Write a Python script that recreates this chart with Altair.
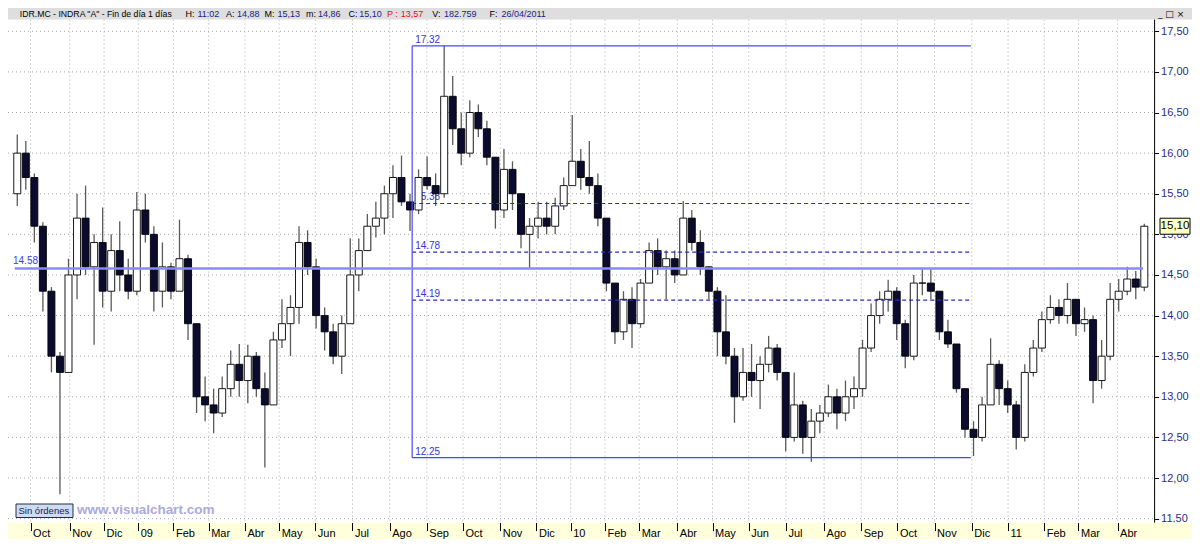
import altair as alt
import pandas as pd

# ---------------- data (weekly candles) ----------------
open_ = [15.5, 16.0, 15.7, 15.1, 14.3, 13.5, 13.3, 14.5, 15.2, 14.6,
         14.9, 14.3, 14.8, 14.5, 14.3, 15.3, 15.0, 14.3, 14.6, 14.3,
         14.7, 13.9, 13.0, 12.9, 12.8, 13.1, 13.4, 13.2, 13.5, 13.1,
         12.9, 13.7, 13.9, 14.1, 14.9, 14.6, 14.0, 13.8, 13.5, 13.9,
         14.5, 14.8, 15.1, 15.2, 15.5, 15.7, 15.4, 15.3, 15.7, 15.6,
         15.5, 16.7, 16.3, 16.0, 16.5, 16.3, 15.95, 15.3, 15.8, 15.5,
         15.0, 15.1, 15.2, 15.1, 15.35, 15.6, 15.9, 15.7, 15.6, 15.2,
         14.4, 13.8, 14.2, 13.9, 14.4, 14.8, 14.6, 14.7, 14.5, 15.2,
         14.9, 14.6, 14.3, 13.8, 13.5, 13.0, 13.3, 13.2, 13.4, 13.6,
         13.3, 12.5, 12.9, 12.5, 12.7, 12.8, 13.0, 12.8, 13.0, 13.1,
         13.6, 14.0, 14.2, 14.3, 13.9, 13.5, 14.4, 14.4, 14.3, 13.8,
         13.65, 13.1, 12.6, 12.5, 12.9, 13.4, 13.1, 12.9, 12.5, 13.3,
         13.6, 13.95, 14.1, 14.0, 14.2, 13.9, 13.95, 13.2, 13.5, 14.2,
         14.3, 14.45, 14.35]
high = [16.23, 16.15, 15.75, 15.15, 14.35, 13.55, 14.7, 15.5, 15.6, 15.0,
        15.33, 15.0, 15.16, 14.7, 15.52, 15.5, 15.1, 14.9, 14.65, 15.18,
        14.75, 13.9, 13.25, 13.1, 13.25, 13.57, 13.65, 13.64, 13.55, 13.3,
        13.8, 14.2, 14.25, 15.1, 15.05, 14.7, 14.1, 13.9, 14.0, 14.95,
        14.95, 15.25, 15.4, 15.6, 15.85, 15.97, 15.5, 15.8, 15.96, 15.75,
        17.32, 16.95, 16.5, 16.65, 16.6, 16.4, 15.95, 16.05, 15.9, 15.5,
        15.2, 15.4, 15.4, 15.45, 15.7, 16.47, 16.05, 16.15, 15.75, 15.2,
        14.4, 14.3, 14.35, 14.45, 14.9, 14.95, 14.8, 14.8, 15.41, 15.3,
        15.05, 14.6, 14.35, 14.25, 13.6, 13.6, 13.65, 13.5, 13.75, 13.65,
        13.3, 13.3, 12.95, 12.85, 12.9, 13.15, 13.1, 13.2, 13.25, 13.7,
        14.15, 14.3, 14.44, 14.35, 13.95, 14.5, 14.57, 14.57, 14.3, 13.95,
        13.65, 13.1, 12.7, 13.0, 13.72, 13.45, 13.2, 12.95, 13.4, 13.7,
        14.05, 14.25, 14.2, 14.4, 14.2, 14.1, 14.0, 13.7, 14.4, 14.45,
        14.6, 14.55, 15.13]
low = [15.35, 15.55, 14.9, 14.05, 13.3, 11.8, 13.3, 14.2, 14.5, 13.64,
       14.1, 14.05, 14.3, 14.2, 14.25, 14.9, 14.05, 14.1, 14.2, 14.3,
       13.7, 12.8, 12.7, 12.55, 12.75, 13.0, 13.0, 12.92, 13.0, 12.13,
       12.9, 13.6, 13.5, 13.9, 14.5, 13.84, 13.57, 13.4, 13.28, 13.9,
       14.3, 14.8, 14.96, 15.0, 15.2, 15.35, 15.04, 15.25, 15.55, 15.35,
       15.45, 16.1, 15.85, 15.95, 16.2, 15.85, 15.07, 15.2, 15.3, 14.83,
       14.58, 14.95, 15.0, 15.0, 15.3, 15.6, 15.55, 15.5, 15.1, 14.3,
       13.65, 13.7, 13.6, 13.85, 14.4, 14.5, 14.2, 14.4, 14.5, 14.8,
       14.5, 14.2, 13.5, 13.4, 12.68, 12.95, 13.0, 12.85, 13.3, 13.2,
       12.33, 12.45, 12.3, 12.2, 12.55, 12.75, 12.6, 12.7, 12.85, 13.0,
       13.55, 13.9, 14.05, 13.7, 13.35, 13.45, 14.25, 14.2, 13.7, 13.6,
       13.05, 12.5, 12.27, 12.45, 12.9, 12.9, 12.8, 12.35, 12.45, 13.25,
       13.55, 13.9, 13.9, 13.9, 13.75, 13.8, 12.92, 13.1, 13.45, 14.05,
       14.25, 14.2, 14.3]
close = [16.0, 15.7, 15.1, 14.3, 13.5, 13.3, 14.5, 15.2, 14.6, 14.9,
         14.3, 14.8, 14.5, 14.3, 15.3, 15.0, 14.3, 14.6, 14.3, 14.7,
         13.9, 13.0, 12.9, 12.8, 13.1, 13.4, 13.2, 13.5, 13.1, 12.9,
         13.7, 13.9, 14.1, 14.9, 14.6, 14.0, 13.8, 13.5, 13.9, 14.5,
         14.8, 15.1, 15.2, 15.5, 15.7, 15.4, 15.3, 15.7, 15.6, 15.5,
         16.7, 16.3, 16.0, 16.5, 16.3, 15.95, 15.3, 15.8, 15.5, 15.0,
         15.1, 15.2, 15.1, 15.35, 15.6, 15.9, 15.7, 15.6, 15.2, 14.4,
         13.8, 14.2, 13.9, 14.4, 14.8, 14.6, 14.7, 14.5, 15.2, 14.9,
         14.6, 14.3, 13.8, 13.5, 13.0, 13.3, 13.2, 13.4, 13.6, 13.3,
         12.5, 12.9, 12.5, 12.7, 12.8, 13.0, 12.8, 13.0, 13.1, 13.6,
         14.0, 14.2, 14.3, 13.9, 13.5, 14.4, 14.4, 14.3, 13.8, 13.65,
         13.1, 12.6, 12.5, 12.9, 13.4, 13.1, 12.9, 12.5, 13.3, 13.6,
         13.95, 14.1, 14.0, 14.2, 13.9, 13.95, 13.2, 13.5, 14.2, 14.3,
         14.45, 14.35, 15.10]

# month ticks (in week units of the x scale) and their labels
month_labels = ["Oct", "Nov", "Dic", "09", "Feb", "Mar", "Abr", "May", "Jun", "Jul",
                "Ago", "Sep", "Oct", "Nov", "Dic", "10", "Feb", "Mar", "Abr", "May",
                "Jun", "Jul", "Ago", "Sep", "Oct", "Nov", "Dic", "11", "Feb", "Mar", "Abr"]
month_pos = [1.56, 6.15, 10.16, 14.17, 18.29, 22.42, 26.66, 30.67, 34.91, 39.26,
             43.62, 47.97, 52.21, 56.57, 60.81, 64.82, 68.83, 72.84, 77.31, 81.43,
             85.67, 90.03, 94.49, 98.85, 103.09, 107.44, 111.8, 116.04, 120.28, 124.29, 128.87]
price_ticks = [11.5, 12.0, 12.5, 13.0, 13.5, 14.0, 14.5, 15.0, 15.5, 16.0, 16.5, 17.0, 17.5]

# Fibonacci retracement drawing and horizontal support line
fib_levels = [17.32, 15.38, 14.78, 14.19, 12.25]
fib_texts = ["17.32", "15.38", "14.78", "14.19", "12.25"]
fib_dashed = [False, True, True, True, False]
fib_span = [46.25, 111.68]
support_level = 14.58
support_span = [-0.3, 131.85]

# header text pieces: (text, colour, x in px, font size)
title_parts = [
    ('IDR.MC - INDRA "A" - Fin de día 1 días', "#000000", 11.8, 8.7),
    ("H:", "#000000", 177.6, 9), ("11:02", "#1c1c8c", 189.5, 9),
    ("A:", "#000000", 218.0, 9), ("14,88", "#1c1c8c", 229.0, 9),
    ("M:", "#000000", 256.5, 9), ("15,13", "#1c1c8c", 269.4, 9),
    ("m:", "#000000", 298.0, 9), ("14,86", "#1c1c8c", 310.0, 9),
    ("C:", "#000000", 340.4, 9), ("15,10", "#1c1c8c", 351.3, 9),
    ("P :", "#e01010", 379.0, 9), ("13,57", "#e01010", 392.7, 9),
    ("V:", "#000000", 424.3, 9), ("182.759", "#1c1c8c", 436.0, 9),
    ("F:", "#000000", 481.5, 9), ("26/04/2011", "#1c1c8c", 493.4, 9),
]

# ---------------- layout constants (pixels) ----------------
W, H = 1184, 531
PLOT_RIGHT = 1146.6
TOP = 11.6
BAND = 514.6
FONT = "Liberation Sans"

df = pd.DataFrame({"week": list(range(len(close))), "open": open_, "high": high,
                   "low": low, "close": close})
df["down"] = df["close"] < df["open"]

xscale = alt.Scale(domain=[-0.5, 137.0], nice=False, zero=False)
yscale = alt.Scale(domain=[11.249, 17.787], nice=False, zero=False)

label_expr_x = ("[" + ",".join(f"'{m}'" for m in month_labels) + "][indexof(["
                + ",".join(str(p) for p in month_pos) + "], datum.value)]")

xaxis = alt.Axis(values=month_pos, labelExpr=label_expr_x, orient="bottom", offset=-(H - BAND),
                 tickSize=8, tickColor="black", tickWidth=1, labelAlign="left", labelBaseline="top",
                 labelPadding=-3, labelOffset=2, labelFont=FONT, labelFontSize=11, labelColor="black",
                 domain=False, grid=False, labelOverlap=False, labelFlush=False, labelBound=False,
                 zindex=1, title=None)
yaxis = alt.Axis(values=price_ticks, orient="right", offset=-(W - PLOT_RIGHT), tickSize=4,
                 tickColor="black", labelPadding=2,
                 labelExpr="replace(format(datum.value, '.2f'), '.', ',')",
                 labelFont=FONT, labelFontSize=11, labelColor="#2b2b90", domain=False, grid=False,
                 title=None, labelOverlap=False, labelBound=False, labelFlush=False, zindex=0)


def X(field):
    return alt.X(field, type="quantitative", scale=xscale, axis=xaxis)


def Y(field):
    return alt.Y(field, type="quantitative", scale=yscale, axis=yaxis)


grid_col = "#a9a9a9"
hgrid = alt.Chart(pd.DataFrame({"p": price_ticks})).mark_rule(
    color=grid_col, strokeDash=[1, 3], strokeWidth=1).encode(
    y=Y("p"), x=alt.value(0), x2=alt.value(PLOT_RIGHT))
vgrid = alt.Chart(pd.DataFrame({"m": month_pos})).mark_rule(
    color=grid_col, strokeDash=[1, 3], strokeWidth=1).encode(
    x=X("m"), y=alt.value(TOP), y2=alt.value(BAND))

fib_df = pd.DataFrame({"level": fib_levels, "txt": fib_texts, "dashed": fib_dashed,
                       "x1": fib_span[0], "x2": fib_span[1]})
fib_labels = alt.Chart(fib_df).mark_text(
    align="left", baseline="alphabetic", dx=3, dy=-3, font=FONT, fontSize=10,
    color="#3434d0").encode(x=X("x1"), y=Y("level"), text="txt:N")

wicks = alt.Chart(df).mark_rule(color="#5a5a5a", strokeWidth=1.3).encode(
    x=X("week"), y=Y("low"), y2="high")
bodies = alt.Chart(df).mark_bar(width=7, stroke="#000000", strokeWidth=0.9).encode(
    x=X("week"), y=Y("open"), y2="close",
    fill=alt.condition("datum.down", alt.value("#0b0b30"), alt.value("#ffffff")))

fib_solid = alt.Chart(fib_df[~fib_df["dashed"]]).mark_rule(color="#4646ff", strokeWidth=1.2).encode(
    x=X("x1"), x2="x2", y=Y("level"))
fib_dash = alt.Chart(fib_df[fib_df["dashed"]]).mark_rule(
    color="#2a2ad0", strokeWidth=1.2, strokeDash=[4, 3]).encode(x=X("x1"), x2="x2", y=Y("level"))
fib_vert = alt.Chart(pd.DataFrame({"x": [fib_span[0]], "a": [fib_levels[0]],
                                   "b": [fib_levels[-1]]})).mark_rule(
    color="#4646ff", strokeWidth=1.2).encode(x=X("x"), y=Y("a"), y2="b")

sup_df = pd.DataFrame({"level": [support_level], "x1": [support_span[0]], "x2": [support_span[1]],
                       "txt": [f"{support_level:.2f}"]})
sup_line = alt.Chart(sup_df).mark_rule(color="#8a8aff", strokeWidth=2.5).encode(
    x=X("x1"), x2="x2", y=Y("level"))
sup_label = alt.Chart(sup_df).mark_text(
    align="left", baseline="alphabetic", dy=-4, font=FONT, fontSize=10, color="#3a3af0").encode(
    x=alt.value(5), y=Y("level"), text="txt:N")

band = alt.Chart(pd.DataFrame({"a": [0]})).mark_rect(color="#ffffdc").encode(
    x=alt.value(0), x2=alt.value(W), y=alt.value(BAND), y2=alt.value(H))
titlebar = alt.Chart(pd.DataFrame({"a": [0]})).mark_rect(color="#dedede").encode(
    x=alt.value(0), x2=alt.value(W), y=alt.value(0), y2=alt.value(TOP))
axis_line = alt.Chart(pd.DataFrame({"a": [0]})).mark_rule(color="#000000", strokeWidth=1).encode(
    x=alt.value(PLOT_RIGHT), y=alt.value(TOP), y2=alt.value(BAND))

title_layers = []
for txt, col, xpos, fs in title_parts:
    title_layers.append(
        alt.Chart(pd.DataFrame({"t": [txt]})).mark_text(
            align="left", baseline="middle", font=FONT, fontSize=fs, color=col).encode(
            x=alt.value(xpos), y=alt.value(6), text="t:N"))
win_btns = alt.Chart(pd.DataFrame({"t": ["_ □ ×"]})).mark_text(
    align="left", baseline="middle", font="DejaVu Sans", fontSize=9, color="#000000").encode(
    x=alt.value(1150), y=alt.value(6), text="t:N")

btn = alt.Chart(pd.DataFrame({"a": [0]})).mark_rect(
    fill="#cddcf0", stroke="#2a2a4a", strokeWidth=1).encode(
    x=alt.value(8), x2=alt.value(65), y=alt.value(496), y2=alt.value(509.5))
btn_txt = alt.Chart(pd.DataFrame({"t": ["Sin órdenes"]})).mark_text(
    align="left", baseline="middle", font=FONT, fontSize=9.5, color="#1a1a50").encode(
    x=alt.value(10.5), y=alt.value(503), text="t:N")
watermark = alt.Chart(pd.DataFrame({"t": ["www.visualchart.com"]})).mark_text(
    align="left", baseline="middle", font=FONT, fontSize=13.5, fontWeight="bold",
    color="#aaaadd").encode(x=alt.value(69), y=alt.value(502), text="t:N")

last_df = pd.DataFrame({"v": [close[-1]], "t": [f"{close[-1]:.2f}".replace(".", ",")]})
marker_box = alt.Chart(last_df).mark_rect(
    fill="#ffffc4", stroke="#000000", strokeWidth=1, yOffset=-8, y2Offset=8).encode(
    x=alt.value(1152), x2=alt.value(1182), y=Y("v"), y2="v")
marker_txt = alt.Chart(last_df).mark_text(
    align="center", baseline="middle", font=FONT, fontSize=11.5, color="#000000").encode(
    x=alt.value(1167), y=Y("v"), text="t:N")

chart = alt.layer(
    hgrid, vgrid, fib_labels, wicks, bodies, fib_solid, fib_dash, fib_vert,
    sup_line, sup_label, band, titlebar, *title_layers, win_btns, axis_line,
    btn, btn_txt, watermark, marker_box, marker_txt,
).properties(
    width=W, height=H, padding=0, background="white",
    autosize=alt.AutoSizeParams(type="none"),
).configure_view(strokeWidth=0)

chart.save("out.html", embed_options={"renderer": "svg", "actions": False})
